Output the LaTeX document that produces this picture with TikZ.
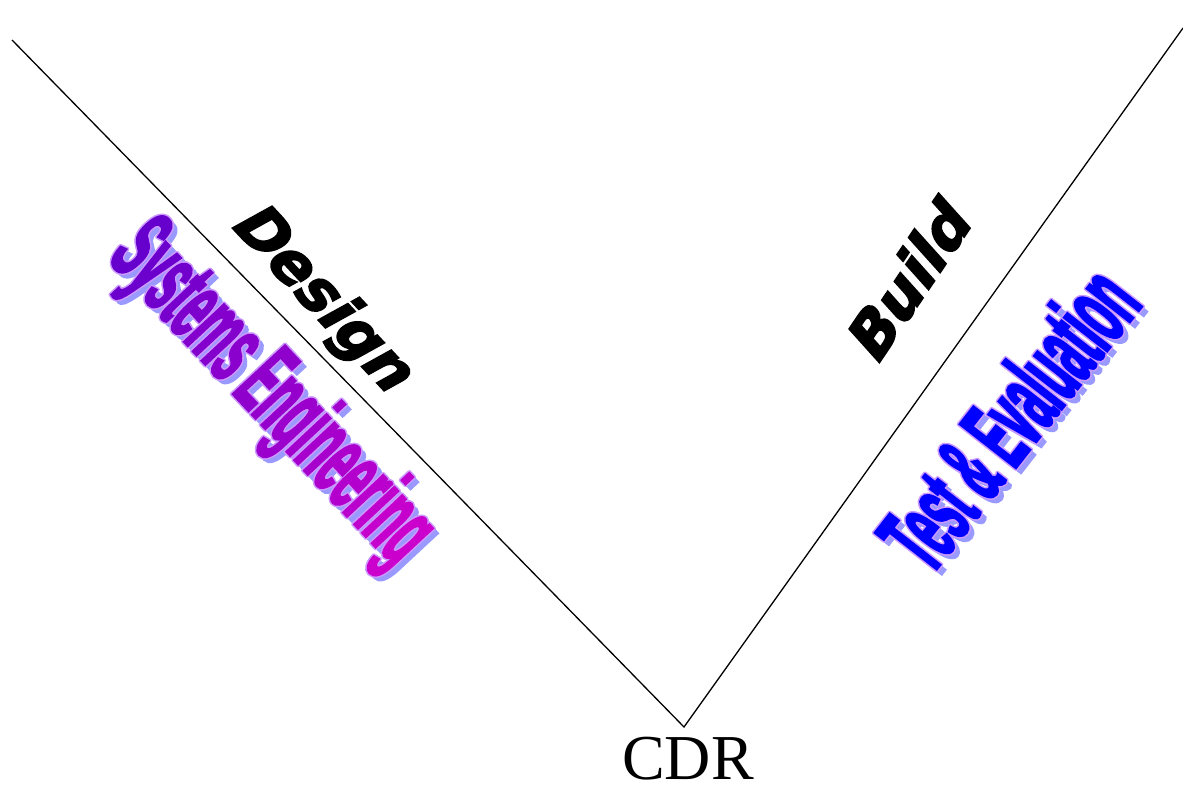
\documentclass[tikz,border=0pt]{standalone}
\usepackage{fontspec}
\setmainfont{Liberation Serif}
\newfontfamily\heavyfont[FakeSlant=0.25,FakeBold=3]{DejaVu Sans}
\newfontfamily\condfont[FakeStretch=0.40,FakeBold=2]{Liberation Sans}
\definecolor{sv}{HTML}{6600CC}
\definecolor{sm}{HTML}{CC00CC}
\definecolor{shadowblue}{HTML}{9999FF}
\definecolor{lav}{HTML}{CC99FF}
\definecolor{tblue}{HTML}{0000FF}
\newcommand{\SEgrad}{\textcolor{sm!0!sv}{S}\textcolor{sm!6!sv}{y}\textcolor{sm!12!sv}{s}\textcolor{sm!18!sv}{t}\textcolor{sm!24!sv}{e}\textcolor{sm!29!sv}{m}\textcolor{sm!35!sv}{s} \textcolor{sm!41!sv}{E}\textcolor{sm!47!sv}{n}\textcolor{sm!53!sv}{g}\textcolor{sm!59!sv}{i}\textcolor{sm!65!sv}{n}\textcolor{sm!71!sv}{e}\textcolor{sm!76!sv}{e}\textcolor{sm!82!sv}{r}\textcolor{sm!88!sv}{i}\textcolor{sm!94!sv}{n}\textcolor{sm!100!sv}{g}}
\tikzset{
  heavy/.style={font=\heavyfont\bfseries\fontsize{60}{60}\selectfont, inner sep=0pt, text=black},
  wordart/.style={font=\condfont\bfseries\fontsize{104}{104}\selectfont, inner sep=0pt},
  vline/.style={line width=1.3pt, black}
}
\begin{document}
\begin{tikzpicture}[x=1pt,y=1pt]
\useasboundingbox (0,0) rectangle (1183,-786);
\fill[white] (0,0) rectangle (1183,-786);
\coordinate (tl) at (12,-40);
\coordinate (bot) at (684,-727);
\coordinate (tr) at (1183,-28);
\draw[vline] (tl) -- (bot) -- (tr);
\node[font=\fontsize{64}{64}\selectfont, inner sep=0pt] (cdr) at (688,-759) {CDR};
\node[heavy, rotate=-47] (design) at (320,-298) {Design};
\node[heavy, rotate=56] (build) at (906,-283) {Build};
% Systems Engineering
\node[wordart, rotate=-47, text=shadowblue] (seshadow) at (275,-400) {Systems Engineering};
\foreach \dx/\dy [count=\i] in {1.5/0,-1.5/0,0/1.5,0/-1.5,1.1/1.1,-1.1/1.1,1.1/-1.1,-1.1/-1.1}
  \node[wordart, rotate=-47, text=lav] (seo\i) at (270+\dx,-395+\dy) {Systems Engineering};
\node[wordart, rotate=-47] (se) at (270,-395) {\SEgrad};
% Test & Evaluation
\node[wordart, rotate=52, text=shadowblue] (teshadow) at (1013,-423) {Test \& Evaluation};
\foreach \dx/\dy [count=\i] in {1.5/0,-1.5/0,0/1.5,0/-1.5,1.1/1.1,-1.1/1.1,1.1/-1.1,-1.1/-1.1}
  \node[wordart, rotate=52, text=lav] (teo\i) at (1008+\dx,-418+\dy) {Test \& Evaluation};
\node[wordart, rotate=52, text=tblue] (te) at (1008,-418) {Test \& Evaluation};
\end{tikzpicture}
\end{document}
